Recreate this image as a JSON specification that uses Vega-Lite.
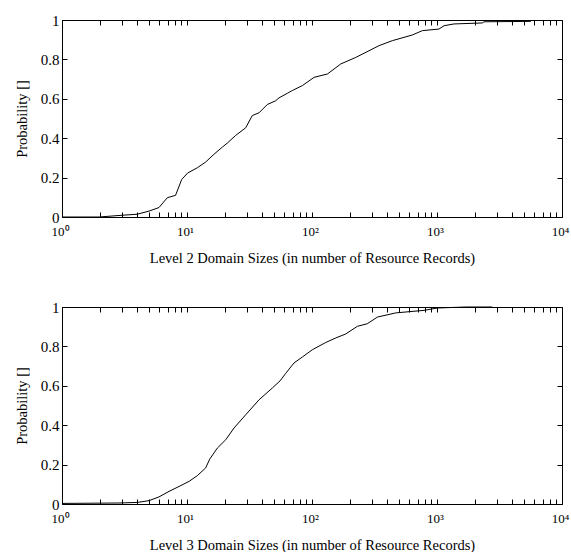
{
  "$schema": "https://vega.github.io/schema/vega-lite/v6.json",
  "padding": {"left": 13, "top": 12, "right": 0, "bottom": 0},
  "spacing": 34,
  "config": {
    "font": "Liberation Serif",
    "view": {"stroke": "black", "strokeWidth": 1},
    "axis": {
      "domain": false,
      "grid": false,
      "tickColor": "black",
      "tickSize": -5,
      "tickWidth": 1,
      "labelColor": "black",
      "labelFont": "Liberation Serif",
      "labelFontSize": 15,
      "titleFont": "Liberation Serif",
      "titleFontSize": 14.5,
      "titleFontWeight": "normal",
      "titleColor": "black",
      "labelOverlap": false,
      "labelFlush": false
    }
  },
  "datasets": {
    "level2": [
      {"size": 1, "p": 0},
      {"size": 1.98, "p": 0},
      {"size": 3.04, "p": 0.009},
      {"size": 4.0, "p": 0.014},
      {"size": 4.97, "p": 0.03},
      {"size": 5.97, "p": 0.048},
      {"size": 6.96, "p": 0.098},
      {"size": 8.1, "p": 0.11},
      {"size": 9.06, "p": 0.19},
      {"size": 10.1, "p": 0.223},
      {"size": 12.1, "p": 0.25},
      {"size": 14.1, "p": 0.279},
      {"size": 16.4, "p": 0.318},
      {"size": 19.2, "p": 0.355},
      {"size": 21.0, "p": 0.375},
      {"size": 24.5, "p": 0.414},
      {"size": 29.5, "p": 0.453},
      {"size": 33.3, "p": 0.515},
      {"size": 37.7, "p": 0.529},
      {"size": 43.9, "p": 0.571},
      {"size": 51.2, "p": 0.59},
      {"size": 54.5, "p": 0.605},
      {"size": 63.5, "p": 0.628},
      {"size": 69.6, "p": 0.642},
      {"size": 83.7, "p": 0.667},
      {"size": 104, "p": 0.709},
      {"size": 133, "p": 0.726},
      {"size": 170, "p": 0.777},
      {"size": 224, "p": 0.81},
      {"size": 286, "p": 0.844},
      {"size": 344, "p": 0.87},
      {"size": 439, "p": 0.895},
      {"size": 635, "p": 0.924},
      {"size": 764, "p": 0.946},
      {"size": 1038, "p": 0.954},
      {"size": 1138, "p": 0.971},
      {"size": 1368, "p": 0.98},
      {"size": 2307, "p": 0.985},
      {"size": 2377, "p": 0.991},
      {"size": 5610, "p": 0.993},
      {"size": 5620, "p": 1.0}
    ],
    "level3": [
      {"size": 1, "p": 0.003},
      {"size": 2.86, "p": 0.005},
      {"size": 4.0, "p": 0.008},
      {"size": 4.97, "p": 0.017},
      {"size": 5.97, "p": 0.036},
      {"size": 7.18, "p": 0.064},
      {"size": 8.63, "p": 0.089},
      {"size": 10.4, "p": 0.115},
      {"size": 12.1, "p": 0.144},
      {"size": 14.1, "p": 0.183},
      {"size": 15.2, "p": 0.228},
      {"size": 17.5, "p": 0.284},
      {"size": 20.4, "p": 0.326},
      {"size": 23.8, "p": 0.386},
      {"size": 29.5, "p": 0.453},
      {"size": 37.7, "p": 0.529},
      {"size": 48.2, "p": 0.589},
      {"size": 55.5, "p": 0.625},
      {"size": 61.6, "p": 0.663},
      {"size": 71.8, "p": 0.716},
      {"size": 83.7, "p": 0.746},
      {"size": 100.6, "p": 0.783},
      {"size": 129, "p": 0.82},
      {"size": 155, "p": 0.843},
      {"size": 186, "p": 0.863},
      {"size": 231, "p": 0.902},
      {"size": 277, "p": 0.915},
      {"size": 334, "p": 0.949},
      {"size": 467, "p": 0.97},
      {"size": 787, "p": 0.983},
      {"size": 1007, "p": 0.995},
      {"size": 1695, "p": 1.0},
      {"size": 2770, "p": 1.0}
    ]
  },
  "vconcat": [
    {
      "width": 500,
      "height": 197,
      "data": {"name": "level2"},
      "resolve": {"axis": {"x": "independent", "y": "independent"}},
      "layer": [
        {
          "mark": {"type": "line", "color": "black", "strokeWidth": 1},
          "encoding": {
            "x": {
              "field": "size", "type": "quantitative",
              "scale": {"type": "log", "domain": [1, 10000]},
              "axis": {
                "values": [1,2,3,4,5,6,7,8,9,10,20,30,40,50,60,70,80,90,100,200,300,400,500,600,700,800,900,1000,2000,3000,4000,5000,6000,7000,8000,9000,10000],
                "labelExpr": "datum.value==1?'10⁰':datum.value==10?'10¹':datum.value==100?'10²':datum.value==1000?'10³':datum.value==10000?'10⁴':''",
                "labelFontSize": 13,
                "labelPadding": 13,
                "labelOffset": -2,
                "title": "Level 2 Domain Sizes (in number of Resource Records)",
                "titlePadding": 13
              }
            },
            "y": {
              "field": "p", "type": "quantitative",
              "scale": {"domain": [0, 1]},
              "axis": {
                "values": [0, 0.2, 0.4, 0.6, 0.8, 1],
                "format": ".1~f",
                "labelPadding": 8,
                "title": "Probability []",
                "titlePadding": 11
              }
            }
          }
        },
        {
          "mark": {"type": "line", "opacity": 0},
          "encoding": {
            "x": {
              "field": "size", "type": "quantitative",
              "scale": {"type": "log", "domain": [1, 10000]},
              "axis": {
                "orient": "top",
                "values": [1,2,3,4,5,6,7,8,9,10,20,30,40,50,60,70,80,90,100,200,300,400,500,600,700,800,900,1000,2000,3000,4000,5000,6000,7000,8000,9000,10000],
                "labels": false,
                "title": null
              }
            },
            "y": {
              "field": "p", "type": "quantitative",
              "scale": {"domain": [0, 1]},
              "axis": {
                "orient": "right",
                "values": [0, 0.2, 0.4, 0.6, 0.8, 1],
                "labels": false,
                "title": null
              }
            }
          }
        }
      ]
    },
    {
      "width": 500,
      "height": 197,
      "data": {"name": "level3"},
      "resolve": {"axis": {"x": "independent", "y": "independent"}},
      "layer": [
        {
          "mark": {"type": "line", "color": "black", "strokeWidth": 1},
          "encoding": {
            "x": {
              "field": "size", "type": "quantitative",
              "scale": {"type": "log", "domain": [1, 10000]},
              "axis": {
                "values": [1,2,3,4,5,6,7,8,9,10,20,30,40,50,60,70,80,90,100,200,300,400,500,600,700,800,900,1000,2000,3000,4000,5000,6000,7000,8000,9000,10000],
                "labelExpr": "datum.value==1?'10⁰':datum.value==10?'10¹':datum.value==100?'10²':datum.value==1000?'10³':datum.value==10000?'10⁴':''",
                "labelFontSize": 13,
                "labelPadding": 13,
                "labelOffset": -2,
                "title": "Level 3 Domain Sizes (in number of Resource Records)",
                "titlePadding": 13
              }
            },
            "y": {
              "field": "p", "type": "quantitative",
              "scale": {"domain": [0, 1]},
              "axis": {
                "values": [0, 0.2, 0.4, 0.6, 0.8, 1],
                "format": ".1~f",
                "labelPadding": 8,
                "title": "Probability []",
                "titlePadding": 11
              }
            }
          }
        },
        {
          "mark": {"type": "line", "opacity": 0},
          "encoding": {
            "x": {
              "field": "size", "type": "quantitative",
              "scale": {"type": "log", "domain": [1, 10000]},
              "axis": {
                "orient": "top",
                "values": [1,2,3,4,5,6,7,8,9,10,20,30,40,50,60,70,80,90,100,200,300,400,500,600,700,800,900,1000,2000,3000,4000,5000,6000,7000,8000,9000,10000],
                "labels": false,
                "title": null
              }
            },
            "y": {
              "field": "p", "type": "quantitative",
              "scale": {"domain": [0, 1]},
              "axis": {
                "orient": "right",
                "values": [0, 0.2, 0.4, 0.6, 0.8, 1],
                "labels": false,
                "title": null
              }
            }
          }
        }
      ]
    }
  ]
}
